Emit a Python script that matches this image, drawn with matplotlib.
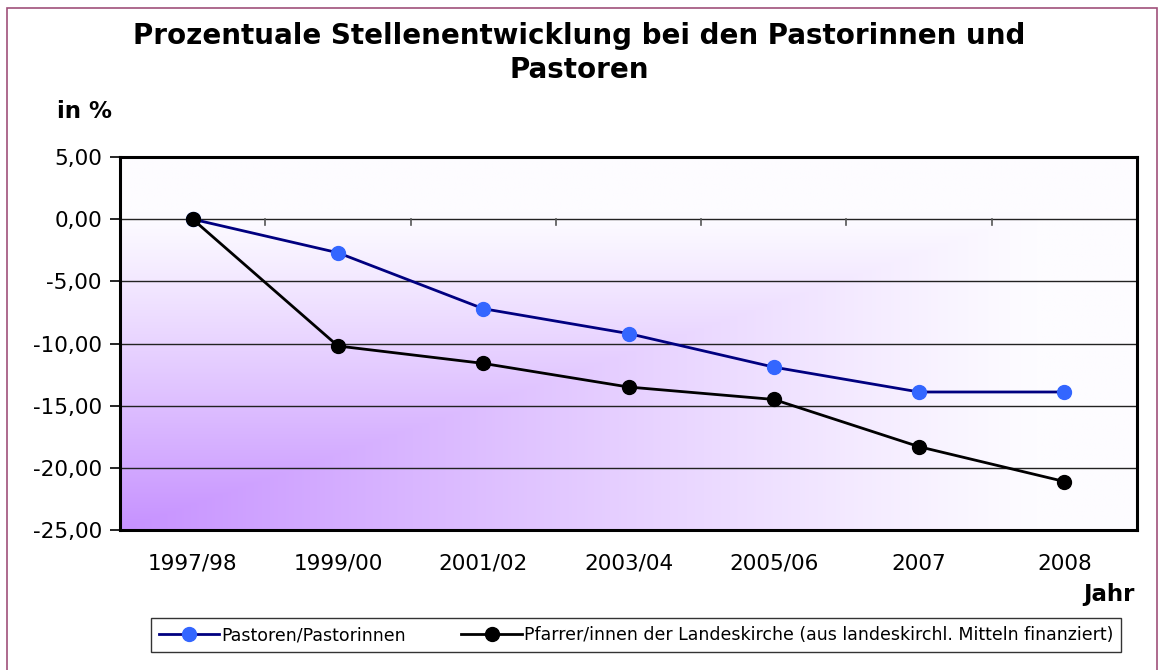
import numpy as np
import matplotlib.pyplot as plt
from matplotlib.patches import Rectangle

# Data
jahre = ['1997/98', '1999/00', '2001/02', '2003/04', '2005/06', '2007', '2008']
pastoren = [0.0, -2.7, -7.2, -9.2, -11.9, -13.9, -13.9]
pfarrer = [0.0, -10.2, -11.6, -13.5, -14.5, -18.3, -21.1]
yticks = [5, 0, -5, -10, -15, -20, -25]

plt.rcParams['font.family'] = ['DejaVu Sans']

fig = plt.figure(figsize=(11.58, 6.7), dpi=100)
ax = fig.add_axes([120 / 1158, 1 - 530 / 670, (1137 - 120) / 1158, (530 - 157) / 670])

x = np.arange(len(jahre))
ax.set_xlim(-0.5, len(jahre) - 0.5)
ax.set_ylim(-25, 5)

# corner gradient background: purple in lower left fading to white
gx, gy = np.meshgrid(np.linspace(0, 1, 400), np.linspace(0, 1, 300))
d = np.clip(np.maximum(gx / 0.9, gy / 0.85), 0, 1)
t = (1 - d) ** 1.1
purple = np.array([198, 145, 255]) / 255.0
white = np.array([253, 252, 255]) / 255.0
img = white[None, None, :] * (1 - t[..., None]) + purple[None, None, :] * t[..., None]
ax.imshow(img, extent=[-0.5, len(jahre) - 0.5, -25, 5], origin='lower',
          aspect='auto', zorder=0, interpolation='bilinear')

for v in [0, -5, -10, -15, -20]:
    ax.axhline(v, color='#222222', lw=1.0, zorder=1)

# category-boundary ticks below the zero line
for b in np.arange(0.5, len(jahre) - 0.5, 1):
    ax.plot([b, b], [0, -0.5], color='#555555', lw=1.2, zorder=1)

ax.plot(x, pastoren, color='#000080', lw=2, marker='o', ms=10,
        mfc='#3366FF', mec='#3366FF', label='Pastoren/Pastorinnen', zorder=3)
ax.plot(x, pfarrer, color='black', lw=2, marker='o', ms=10,
        mfc='black', mec='black',
        label='Pfarrer/innen der Landeskirche (aus landeskirchl. Mitteln finanziert)',
        zorder=3)

ax.set_yticks(yticks)
ax.set_yticklabels([f'{v:.2f}'.replace('.', ',') for v in yticks], fontsize=15.5)
ax.tick_params(axis='y', length=7, width=1.2, direction='out', pad=6)
ax.set_xticks(x)
ax.set_xticklabels(jahre, fontsize=15.5)
ax.tick_params(axis='x', length=0, pad=17)
for s in ax.spines.values():
    s.set_linewidth(2.2)
    s.set_color('black')

fig.text(0.5, 1 - 53 / 670, 'Prozentuale Stellenentwicklung bei den Pastorinnen und\nPastoren',
         ha='center', va='center', fontsize=20, fontweight='bold', linespacing=1.3)
fig.text(57 / 1158, 1 - 112 / 670, 'in %', ha='left', va='center', fontsize=16.5, fontweight='bold')
fig.text(1135 / 1158, 1 - 595 / 670, 'Jahr', ha='right', va='center', fontsize=16.5, fontweight='bold')

leg = fig.legend(loc='center', bbox_to_anchor=(636 / 1158, 1 - 635 / 670), ncol=2,
                 fontsize=12.5, frameon=True, fancybox=False, edgecolor='black',
                 handlelength=3.5, handletextpad=0.1, columnspacing=3.2,
                 borderpad=0.45, borderaxespad=0)
leg.get_frame().set_linewidth(1.0)

# outer chart border
fig.patches.append(Rectangle((7 / 1158, -0.01), 1150 / 1158, 1 - 8 / 670 + 0.01,
                             transform=fig.transFigure, fill=False,
                             edgecolor='#A0507A', lw=1.2))

fig.savefig('out.png', dpi=100)
